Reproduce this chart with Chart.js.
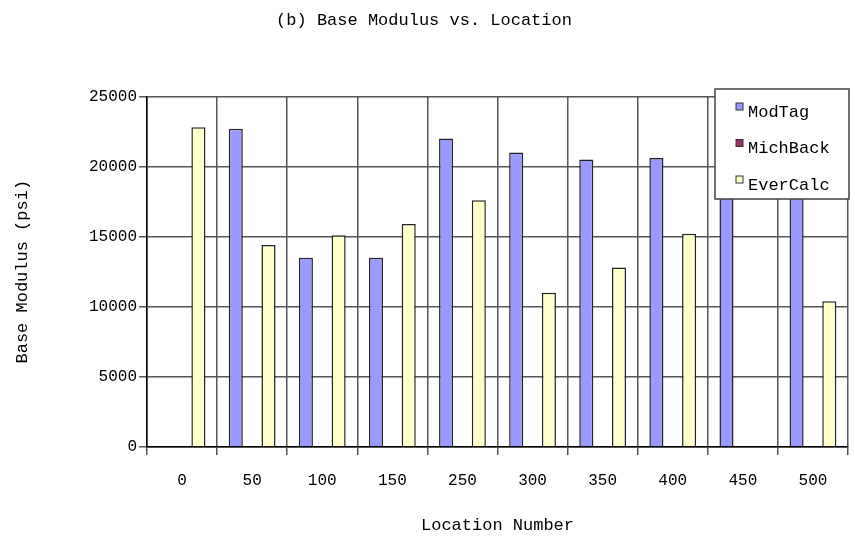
<!DOCTYPE html>
<html><head><meta charset="utf-8">
<script src="https://cdn.jsdelivr.net/npm/chart.js@4/dist/chart.umd.min.js"></script>
<style>html,body{margin:0;padding:0;background:#fff}#wrap{width:855px;height:540px}</style>
</head><body><div id="wrap"><canvas id="c" width="855" height="540"></canvas></div>
<script>
const categories = ['0','50','100','150','250','300','350','400','450','500'];
const modTag   = [0,22700,13500,13500,22000,21000,20500,20600,20000,19000];
const michBack = [0,0,0,0,0,0,0,0,0,0];
const everCalc = [22800,14400,15100,15900,17600,11000,12800,15200,0,10400];
const seriesNames = ['ModTag','MichBack','EverCalc'];
const titleText = '(b) Base Modulus vs. Location';
const xTitle = 'Location Number';
const yTitle = 'Base Modulus (psi)';

const FONT = '"Liberation Mono", "DejaVu Sans Mono", monospace';

const boxLegend = {
  id: 'boxLegend',
  afterDraw(chart) {
    const ctx = chart.ctx;
    const x0 = 715, y0 = 89, w = 134, h = 110;
    ctx.save();
    ctx.fillStyle = '#fff';
    ctx.fillRect(x0, y0, w, h);
    ctx.strokeStyle = '#404040';
    ctx.lineWidth = 1.5;
    ctx.strokeRect(x0, y0, w, h);
    chart.data.datasets.forEach((ds, i) => {
      const cy = 112 + i * 36.5;
      ctx.fillStyle = ds.backgroundColor;
      ctx.fillRect(736, cy - 9, 7, 7);
      ctx.strokeStyle = '#333';
      ctx.lineWidth = 1;
      ctx.strokeRect(736, cy - 9, 7, 7);
      ctx.fillStyle = '#000';
      ctx.font = '17px ' + FONT;
      ctx.textBaseline = 'middle';
      ctx.textAlign = 'left';
      ctx.fillText(ds.label, 748, cy);
    });
    ctx.restore();
  }
};

new Chart(document.getElementById('c'), {
  type: 'bar',
  data: {
    labels: categories,
    datasets: [
      {label: seriesNames[0], data: modTag, backgroundColor: '#9999FF', borderColor: '#222', borderWidth: 1.5},
      {label: seriesNames[1], data: michBack, backgroundColor: '#993366', borderColor: '#222', borderWidth: 1.5},
      {label: seriesNames[2], data: everCalc, backgroundColor: '#FFFFCC', borderColor: '#222', borderWidth: 1.5}
    ]
  },
  options: {
    responsive: false,
    animation: false,
    devicePixelRatio: 1,
    categoryPercentage: 0.7,
    barPercentage: 0.86,
    layout: {padding: {left: 0, right: 7, top: 0, bottom: 0}},
    plugins: {
      legend: {display: false},
      tooltip: {enabled: false},
      title: {
        display: true,
        text: titleText,
        color: '#000',
        font: {family: FONT, size: 17, weight: 'normal'},
        padding: {top: 10, bottom: 66}
      }
    },
    scales: {
      x: {
        grid: {color: '#555', lineWidth: 1.5, offset: true, tickLength: 8, drawTicks: true},
        border: {color: '#000', width: 1.5},
        ticks: {color: '#000', font: {family: FONT, size: 16}, padding: 16, maxRotation: 0},
        title: {display: true, text: xTitle, color: '#000', font: {family: FONT, size: 17}, padding: {top: 10, bottom: 4}},
        afterFit(s) { s.height = 93; }
      },
      y: {
        min: 0, max: 25000,
        grid: {color: '#555', lineWidth: 1.5, tickLength: 8, drawTicks: true},
        border: {color: '#000', width: 1.5},
        ticks: {stepSize: 5000, color: '#000', font: {family: FONT, size: 16}, padding: 2,
                callback: (v) => String(v)},
        title: {display: true, text: yTitle, color: '#000', font: {family: FONT, size: 17}, padding: {top: 12, bottom: 0}},
        afterFit(s) { s.width = 147; }
      }
    }
  },
  plugins: [boxLegend]
});
</script></body></html>
